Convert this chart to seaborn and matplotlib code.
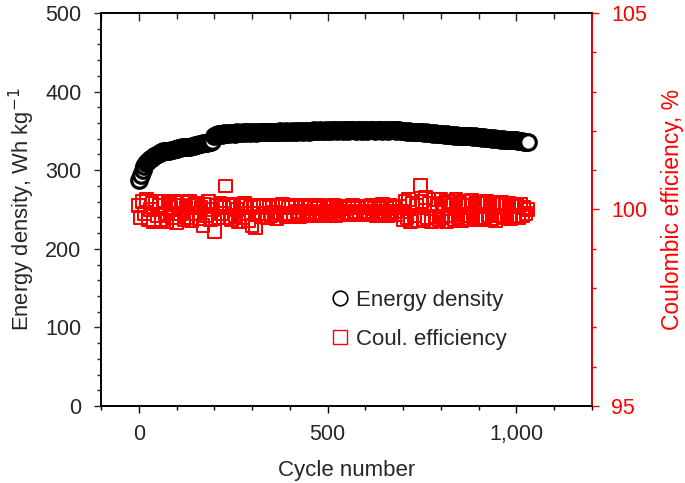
import numpy as np
import matplotlib
matplotlib.use("Agg")
import matplotlib.pyplot as plt
import seaborn as sns
from matplotlib.ticker import MultipleLocator
from matplotlib.lines import Line2D

sns.set_style("ticks")
plt.rcParams['font.family'] = ['Liberation Sans', 'DejaVu Sans']

cycle_step = 5
cycle_start = 0
energy_density = [
    287, 294, 300, 305, 309, 312, 314, 316, 318, 319, 321, 322, 323, 324, 324, 325, 325, 326, 326, 327,
    327, 328, 328, 329, 329, 329, 330, 330, 331, 331, 332, 332, 333, 333, 334, 334, 335, 336, 336, 337,
    344, 345, 346, 346, 345, 347, 346, 347, 346, 347, 347, 346, 348, 347, 347, 348, 347, 348, 348, 347,
    348, 348, 347, 349, 348, 348, 349, 348, 349, 348, 349, 349, 348, 349, 349, 350, 349, 349, 350, 349,
    349, 350, 349, 350, 349, 350, 350, 349, 350, 350, 349, 350, 350, 351, 350, 350, 351, 350, 350, 351,
    350, 351, 350, 351, 351, 350, 351, 351, 350, 351, 351, 350, 351, 351, 351, 350, 351, 351, 350, 351,
    351, 350, 351, 351, 351, 350, 351, 351, 351, 350, 351, 351, 350, 351, 351, 351, 350, 351, 351, 350,
    350, 350, 349, 350, 349, 349, 348, 349, 348, 348, 348, 347, 348, 347, 347, 347, 346, 347, 346, 346,
    346, 346, 345, 346, 345, 345, 345, 344, 345, 344, 344, 344, 343, 344, 343, 343, 343, 342, 343, 342,
    342, 342, 341, 342, 341, 341, 341, 340, 341, 340, 340, 340, 339, 340, 339, 339, 339, 338, 338, 338,
    338, 337, 337, 337, 336, 336, 336,
]
coul_efficiency = [
    100.1, 99.8, 100.2, 99.9, 100.25, 99.75, 100.0, 100.15, 99.7, 100.2, 99.85, 100.1, 99.75, 100.2, 99.9,
    99.7, 100.15, 100.05, 99.8, 100.2, 99.67, 100.1, 99.9, 100.18, 99.75, 100.05, 99.8, 100.2, 99.72, 100.1,
    99.9, 100.15, 99.78, 100.05, 99.6, 100.12, 99.85, 100.2, 99.75, 100.0,
    99.45, 100.1, 99.8, 100.15, 99.9, 100.05, 100.6, 99.8, 100.1, 99.75, 100.12, 99.85, 100.0, 99.7, 100.1,
    99.8, 100.15, 99.9, 99.72, 100.05,
    99.6, 100.1, 99.55, 99.9, 100.08, 99.82, 100.1, 99.9, 99.8, 100.05, 99.85, 100.1, 99.92, 99.78, 100.08,
    99.88, 100.12, 99.9, 99.82, 100.05,
    99.9, 100.08, 99.85, 100.1, 99.95, 99.82, 100.05, 99.9, 100.1, 99.88, 99.95, 100.08, 99.85, 100.02, 99.9,
    100.1, 99.92, 99.85, 100.05, 99.95,
    99.9, 100.05, 99.92, 100.1, 99.85, 100.0, 99.95, 100.08, 99.88, 100.02, 99.92, 100.06, 99.9, 100.1, 99.95,
    99.88, 100.04, 99.92, 100.08, 99.9,
    99.95, 100.05, 99.88, 100.1, 99.92, 100.02, 99.85, 100.08, 99.95, 100.12, 99.9, 100.02, 99.85, 100.1, 99.92,
    100.05, 99.95, 99.88, 100.08, 99.95,
    99.75, 100.2, 99.8, 100.25, 99.7, 100.15, 99.85, 100.1, 99.72, 100.62, 100.2, 99.75, 100.3, 99.8, 100.15,
    99.7, 100.25, 99.82, 100.1, 99.75,
    100.25, 99.8, 100.15, 99.7, 100.2, 99.85, 100.1, 99.75, 100.25, 99.8, 100.15, 99.72, 100.2, 99.85, 100.1,
    99.78, 100.22, 99.82, 100.12, 99.75,
    100.18, 99.8, 100.15, 99.75, 100.2, 99.85, 100.1, 99.78, 100.15, 99.72, 100.12, 99.85, 100.18, 99.8, 100.1,
    99.82, 100.15, 99.78, 100.08, 99.85,
    100.1, 99.8, 100.12, 99.85, 100.05, 99.9, 100.0,
]
cycles = cycle_start + cycle_step * np.arange(len(energy_density))
x_ticks = [0, 500, 1000]
x_tick_labels = ["0", "500", "1,000"]

RED = '#ff0000'
TICK_FS = 15.5

fig = plt.figure(figsize=(6.85, 4.83), dpi=100)
ax = fig.add_axes([101/685, 77/483, (592-101)/685, (406-13)/483])
ax2 = ax.twinx()

sns.scatterplot(x=cycles, y=energy_density, ax=ax, marker='o', s=125,
                facecolor='white', edgecolor='black', linewidth=2.3, zorder=3)
sns.scatterplot(x=cycles, y=coul_efficiency, ax=ax2, marker='s', s=85,
                facecolor='none', edgecolor=RED, linewidth=1.45, zorder=3)

ax.set_xlim(-100, 1200)
ax.set_ylim(0, 500)
ax2.set_ylim(95, 105)

ax.set_xticks(x_ticks)
ax.set_xticklabels(x_tick_labels)
ax.xaxis.set_minor_locator(MultipleLocator(100))
ax.yaxis.set_major_locator(MultipleLocator(100))
ax.yaxis.set_minor_locator(MultipleLocator(20))
ax2.set_yticks([95, 100, 105])
ax2.yaxis.set_minor_locator(MultipleLocator(1))

ax.tick_params(axis='x', which='both', direction='out', top=False, labelsize=TICK_FS, width=1, color='black', pad=8)
ax.tick_params(axis='x', which='major', length=5)
ax.tick_params(axis='x', which='minor', length=3)
ax.tick_params(axis='y', which='both', direction='out', labelsize=TICK_FS, width=1, right=False, pad=9)
ax.tick_params(axis='y', which='major', length=5)
ax.tick_params(axis='y', which='minor', length=3)

secx = ax.secondary_xaxis('top')
secx.set_xticks(x_ticks)
secx.xaxis.set_minor_locator(MultipleLocator(100))
secx.tick_params(axis='x', which='both', direction='in', labeltop=False, width=1)
secx.tick_params(axis='x', which='major', length=6)
secx.tick_params(axis='x', which='minor', length=4)
secx.spines['top'].set_linewidth(1.2)

ax2.tick_params(axis='y', which='both', direction='out', colors=RED, labelsize=TICK_FS, width=1, pad=9)
ax2.tick_params(axis='y', which='major', length=5)
ax2.tick_params(axis='y', which='minor', length=3)

for a in (ax, ax2):
    for s in a.spines.values():
        s.set_visible(True)
        s.set_linewidth(1.2)
        s.set_color('black')
ax2.spines['right'].set_color(RED)

ax.set_xlabel("Cycle number", fontsize=16, labelpad=11)
ax.set_ylabel("Energy density, Wh kg$^{-1}$", fontsize=15.8, labelpad=6)
ax2.set_ylabel("Coulombic efficiency, %", fontsize=16.5, color=RED, labelpad=10)

handles = [
    Line2D([], [], marker='o', ls='none', markersize=10.5, markerfacecolor='white',
           markeredgecolor='black', markeredgewidth=1.2),
    Line2D([], [], marker='s', ls='none', markersize=9.5, markerfacecolor='none',
           markeredgecolor=RED, markeredgewidth=1.0),
]
leg = ax2.legend(handles, ["Energy density", "Coul. efficiency"], loc='upper left',
                 bbox_to_anchor=(328/685, 1 - 290/483), bbox_transform=fig.transFigure,
                 frameon=False, fontsize=16, handletextpad=0.15, labelspacing=0.8,
                 handlelength=1.1, borderaxespad=0, borderpad=0)

fig.savefig("out.png", dpi=100)
